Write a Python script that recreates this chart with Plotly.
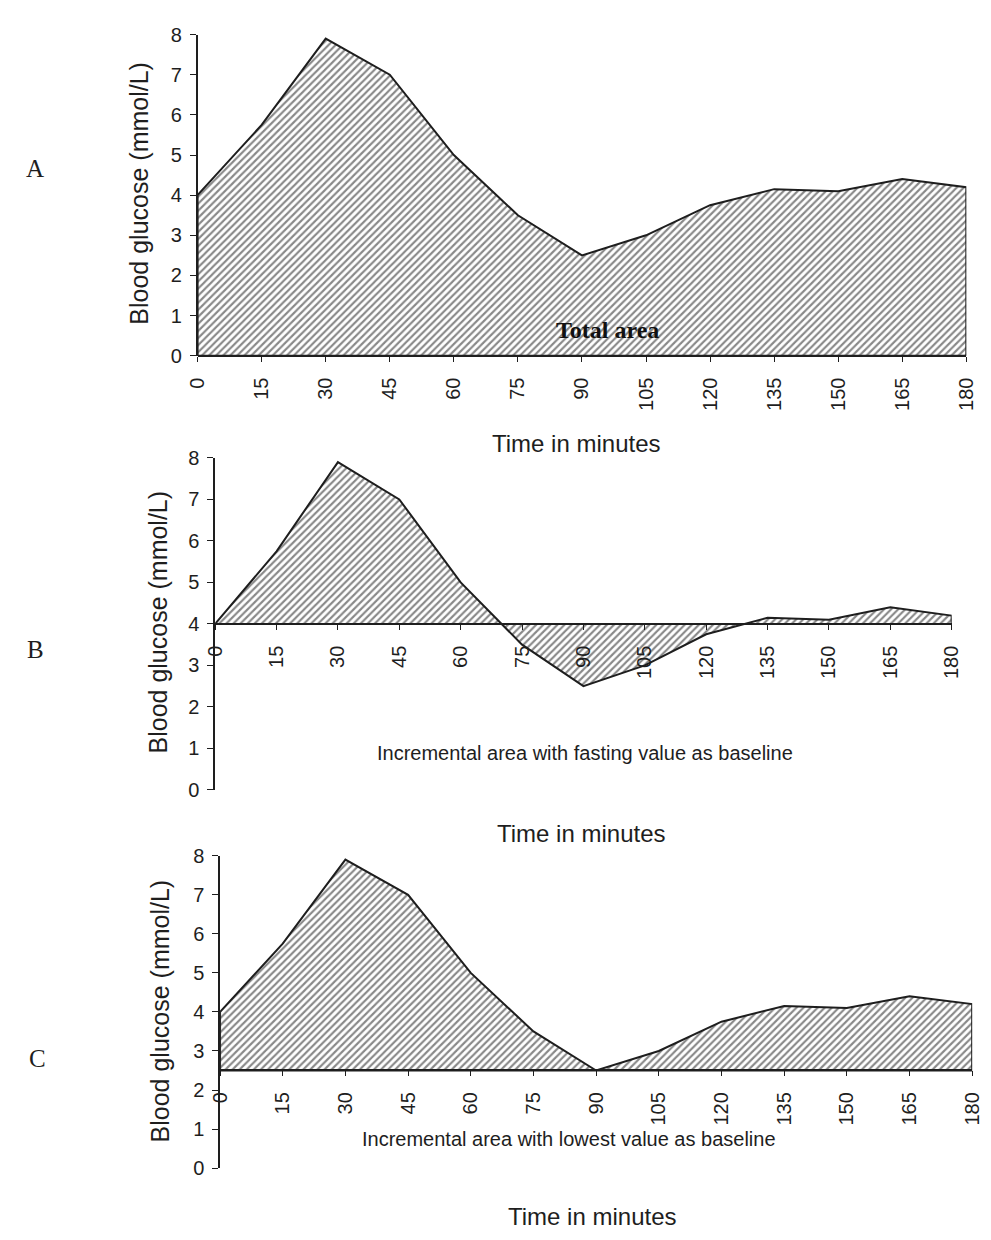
import plotly.graph_objects as go

# Blood glucose curve sampled every 15 minutes
time_min = [0, 15, 30, 45, 60, 75, 90, 105, 120, 135, 150, 165, 180]
glucose = [4.0, 5.75, 7.9, 7.0, 5.0, 3.5, 2.5, 3.0, 3.75, 4.15, 4.1, 4.4, 4.2]

y_ticks = [0, 1, 2, 3, 4, 5, 6, 7, 8]
x_ticks = time_min

panel_letters = ["A", "B", "C"]
x_title = "Time in minutes"
y_title = "Blood glucose (mmol/L)"
area_labels = ["Total area",
               "Incremental area with fasting value as baseline",
               "Incremental area with lowest value as baseline"]

W, H = 991, 1240
SANS = "Liberation Sans, Arial, sans-serif"
SERIF = "Liberation Serif, Times New Roman, serif"
INK = "#1e1e1e"


def px_x(p):
    return p / W


def px_y(p):
    return 1 - p / H


fasting = glucose[0]
lowest = min(glucose)
baselines = [0.0, fasting, lowest]

# panel frames in pixels: (x of t=0, x of t=180, y of 0 mmol/L, y of 8 mmol/L)
frames = [(190, 977, 351, 24), (208, 962, 793, 455), (213, 983, 1178, 860)]

fig = go.Figure()
layout = dict(
    width=W, height=H, margin=dict(l=0, r=0, t=0, b=0),
    paper_bgcolor="white", plot_bgcolor="rgba(0,0,0,0)",
    showlegend=False, annotations=[],
)

hatch = dict(shape="/", fgcolor="#111", bgcolor="white", size=5, solidity=0.42)

for i, (x0, x1, y0, y8) in enumerate(frames):
    n = "" if i == 0 else str(i + 1)
    xa, ya = "x" + n, "y" + n
    base = baselines[i]
    ydom = [px_y(y0), px_y(y8)]
    axis_pos = ydom[0] + (ydom[1] - ydom[0]) * base / 8

    # closed polygon between the curve and its baseline
    poly_x = [time_min[0]] + time_min + [time_min[-1], time_min[0]]
    poly_y = [base] + glucose + [base, base]
    fig.add_trace(go.Scatter(
        x=poly_x, y=poly_y, mode="lines", fill="toself",
        fillpattern=hatch, fillcolor="white",
        line=dict(color=INK, width=2), xaxis=xa, yaxis=ya,
        hoverinfo="skip",
    ))

    layout["xaxis" + n] = dict(
        domain=[px_x(x0), px_x(x1)], range=[0, 180],
        anchor="free", position=axis_pos,
        tickmode="array", tickvals=x_ticks, ticktext=[str(t) for t in x_ticks],
        tickangle=-90, ticks="outside", ticklen=5, tickcolor=INK,
        ticklabelstandoff=8,
        tickfont=dict(family=SANS, size=20, color=INK),
        showline=True, linecolor=INK, linewidth=1.5,
        showgrid=False, zeroline=False,
    )
    layout["yaxis" + n] = dict(
        domain=ydom, range=[0, 8], anchor=xa,
        tickmode="array", tickvals=y_ticks, ticktext=[str(v) for v in y_ticks],
        ticks="outside", ticklen=6, tickcolor=INK, ticklabelstandoff=4,
        tickfont=dict(family=SANS, size=20, color=INK),
        showline=True, linecolor=INK, linewidth=1.5,
        showgrid=False, zeroline=False,
    )

# axis titles and panel letters
titles = [
    # (y-title x, y-title y, x-title x, x-title y, letter x, letter y)
    (130, 185, 578, 440, 24, 160),
    (149, 622, 583, 837, 24, 650),
    (151, 1018, 594, 1227, 26, 1066),
]
for i, (ytx, yty, xtx, xty, lx, ly) in enumerate(titles):
    layout["annotations"] += [
        dict(text=y_title, x=px_x(ytx), y=px_y(yty), xref="paper", yref="paper",
             textangle=-90, showarrow=False, xanchor="center", yanchor="middle",
             font=dict(family=SANS, size=25, color=INK)),
        dict(text=x_title, x=px_x(xtx), y=px_y(xty), xref="paper", yref="paper",
             showarrow=False, xanchor="center", yanchor="middle",
             font=dict(family=SANS, size=24, color=INK)),
        dict(text=panel_letters[i], x=px_x(lx), y=px_y(ly), xref="paper", yref="paper",
             showarrow=False, xanchor="center", yanchor="middle",
             font=dict(family=SERIF, size=25, color=INK)),
    ]

# area descriptions
layout["annotations"] += [
    dict(text="<b>" + area_labels[0] + "</b>", x=96, y=0.65, xref="x", yref="y",
         showarrow=False, xanchor="center", yanchor="middle",
         font=dict(family=SERIF, size=24, color="#111")),
    dict(text=area_labels[1], x=px_x(587), y=px_y(755), xref="paper", yref="paper",
         showarrow=False, xanchor="center", yanchor="middle",
         font=dict(family=SANS, size=20, color=INK)),
    dict(text=area_labels[2], x=px_x(570), y=px_y(1148), xref="paper", yref="paper",
         showarrow=False, xanchor="center", yanchor="middle",
         font=dict(family=SANS, size=20, color=INK)),
]

fig.update_layout(**layout)
fig.write_html("out.html")
